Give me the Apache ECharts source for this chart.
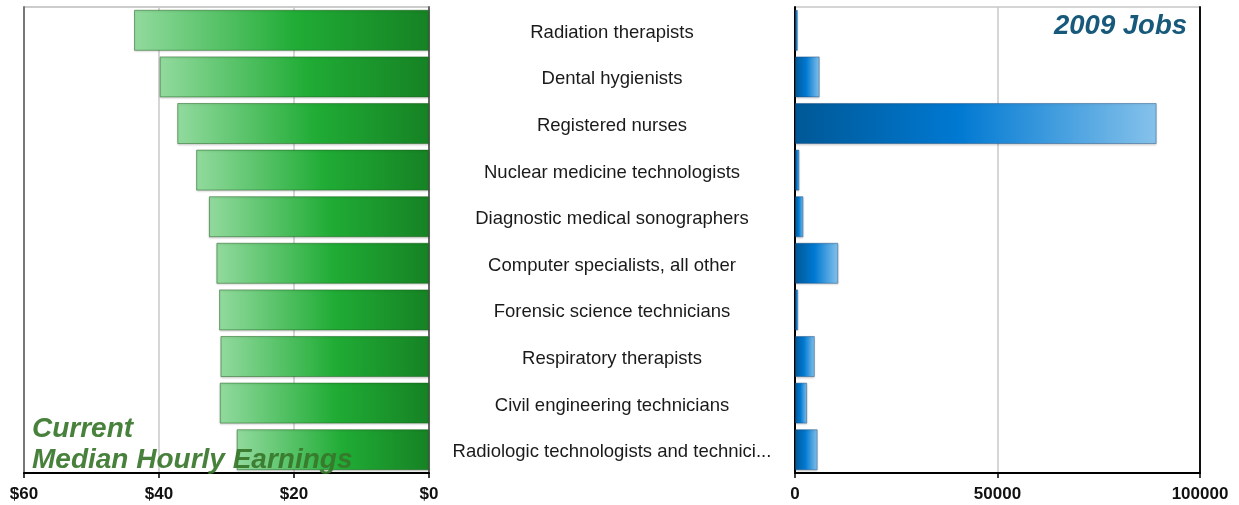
<!DOCTYPE html>
<html>
<head>
<meta charset="utf-8">
<script src="https://cdn.jsdelivr.net/npm/echarts@6/dist/echarts.min.js"></script>
<style>
html,body{margin:0;padding:0;background:#fff;}
#c{width:1239px;height:505px;}
</style>
</head>
<body>
<div id="c"></div>
<script>
const categories = [
  "Radiation therapists",
  "Dental hygienists",
  "Registered nurses",
  "Nuclear medicine technologists",
  "Diagnostic medical sonographers",
  "Computer specialists, all other",
  "Forensic science technicians",
  "Respiratory therapists",
  "Civil engineering technicians",
  "Radiologic technologists and technici..."
];
const earnings = [43.7, 39.9, 37.3, 34.5, 32.6, 31.5, 31.1, 30.9, 31.0, 28.5];
const jobs = [700, 6100, 89300, 1100, 2100, 10700, 800, 4900, 3000, 5600];
const earningsTicks = [0, 20, 40, 60];
const jobsTicks = [0, 50000, 100000];

const FONT = "'Liberation Sans', Arial, Helvetica, sans-serif";
const chart = echarts.init(document.getElementById('c'));

const greenGrad = new echarts.graphic.LinearGradient(0, 0, 1, 0, [
  {offset: 0, color: '#92da9e'},
  {offset: 0.55, color: '#20ac35'},
  {offset: 1, color: '#168224'}
]);
const blueGrad = new echarts.graphic.LinearGradient(0, 0, 1, 0, [
  {offset: 0, color: '#005896'},
  {offset: 0.45, color: '#0079d2'},
  {offset: 1, color: '#86c2eb'}
]);

const tickLabel = {
  fontFamily: FONT, fontWeight: 'bold', fontSize: 17, color: '#111', margin: 13
};

chart.setOption({
  animation: false,
  backgroundColor: '#fff',
  title: [
    {
      text: 'Current\nMedian Hourly Earnings',
      left: 27, top: 409,
      textStyle: {
        fontFamily: FONT, fontStyle: 'italic', fontWeight: 'bold',
        fontSize: 28, lineHeight: 31, color: 'rgba(55,118,42,0.92)'
      },
      z: 10
    },
    {
      text: '2009 Jobs',
      right: 47, top: 8,
      textStyle: {
        fontFamily: FONT, fontStyle: 'italic', fontWeight: 'bold',
        fontSize: 27.5, color: '#17597a'
      },
      z: 10
    }
  ],
  grid: [
    {left: 24, right: 810, top: 7, bottom: 32, show: true, borderColor: '#999', borderWidth: 1},
    {left: 795, right: 39, top: 7, bottom: 32, show: true, borderColor: '#aaa', borderWidth: 1}
  ],
  xAxis: [
    {
      gridIndex: 0, type: 'value', inverse: true, min: 0, max: 60, interval: 20,
      axisLine: {show: true, lineStyle: {color: '#000', width: 2}},
      axisTick: {show: true, length: 5, lineStyle: {color: '#000', width: 1.5}},
      axisLabel: Object.assign({}, tickLabel, {
        formatter: v => earningsTicks.indexOf(v) >= 0 ? '$' + v : ''
      }),
      splitLine: {show: true, lineStyle: {color: '#c8c8c8', width: 1.5}}
    },
    {
      gridIndex: 1, type: 'value', min: 0, max: 100000, interval: 50000,
      axisLine: {show: true, lineStyle: {color: '#000', width: 2}},
      axisTick: {show: true, length: 5, lineStyle: {color: '#000', width: 1.5}},
      axisLabel: Object.assign({}, tickLabel, {
        formatter: v => jobsTicks.indexOf(v) >= 0 ? String(v) : ''
      }),
      splitLine: {show: true, lineStyle: {color: '#c8c8c8', width: 1.5}}
    }
  ],
  yAxis: [
    {
      gridIndex: 0, type: 'category', data: categories, inverse: true, position: 'right',
      axisLine: {show: true, lineStyle: {color: '#666', width: 2}},
      axisTick: {show: false},
      axisLabel: {
        show: true, margin: 183, align: 'center', fontFamily: FONT,
        fontSize: 18.5, color: '#1a1a1a',
        formatter: v => '{a|' + v + '}',
        rich: {a: {fontFamily: FONT, fontSize: 18.5, color: '#1a1a1a', padding: [5, 0, 0, 0]}}
      },
      splitLine: {show: false}
    },
    {
      gridIndex: 0, type: 'category', data: categories, inverse: true, position: 'left',
      axisLine: {show: true, lineStyle: {color: '#777', width: 2}},
      axisTick: {show: false}, axisLabel: {show: false}, splitLine: {show: false}
    },
    {
      gridIndex: 1, type: 'category', data: categories, inverse: true, position: 'left',
      axisLine: {show: true, lineStyle: {color: '#000', width: 2}},
      axisTick: {show: false}, axisLabel: {show: false}, splitLine: {show: false}
    },
    {
      gridIndex: 1, type: 'category', data: categories, inverse: true, position: 'right',
      axisLine: {show: true, lineStyle: {color: '#111', width: 2}},
      axisTick: {show: false}, axisLabel: {show: false}, splitLine: {show: false}
    }
  ],
  series: [
    {
      type: 'bar', xAxisIndex: 0, yAxisIndex: 0, data: earnings,
      barCategoryGap: '12%',
      itemStyle: {
        color: greenGrad, borderColor: 'rgba(30,100,30,0.5)', borderWidth: 1,
        shadowColor: 'rgba(0,0,0,0.18)', shadowBlur: 2, shadowOffsetY: 1
      },
      z: 3
    },
    {
      type: 'bar', xAxisIndex: 1, yAxisIndex: 2, data: jobs,
      barCategoryGap: '12%',
      itemStyle: {
        color: blueGrad, borderColor: 'rgba(30,80,130,0.45)', borderWidth: 1,
        shadowColor: 'rgba(0,0,0,0.18)', shadowBlur: 2, shadowOffsetY: 1
      },
      z: 3
    }
  ]
});
</script>
</body>
</html>
